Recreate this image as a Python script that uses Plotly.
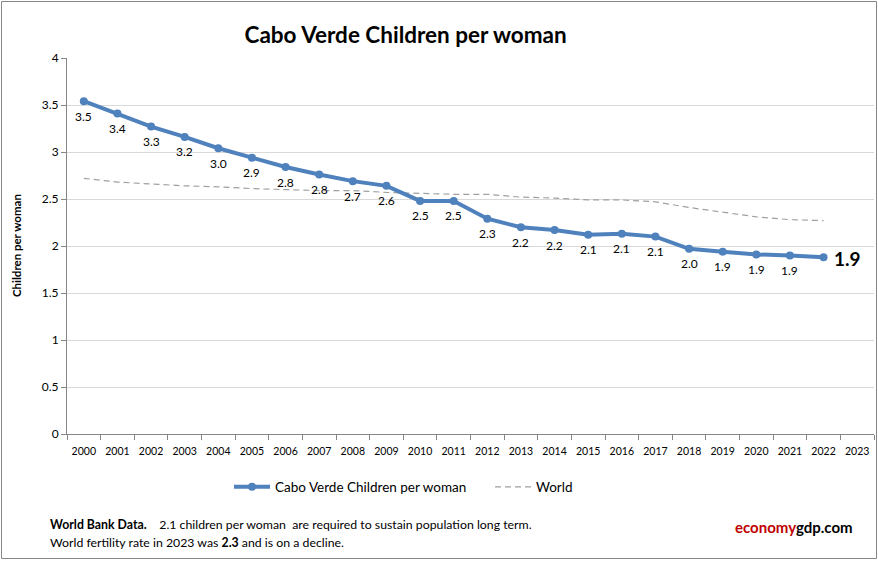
import plotly.graph_objects as go

years = [str(y) for y in range(2000, 2024)]
cabo_years = [str(y) for y in range(2000, 2023)]
cabo_values = [3.54, 3.41, 3.27, 3.16, 3.04, 2.94, 2.84, 2.76, 2.69, 2.64, 2.48, 2.48,
               2.29, 2.20, 2.17, 2.12, 2.13, 2.10, 1.97, 1.94, 1.91, 1.90, 1.88]
world_years = [str(y) for y in range(2000, 2023)]
world_values = [2.72, 2.68, 2.66, 2.64, 2.63, 2.61, 2.60, 2.59, 2.59, 2.57, 2.56, 2.55,
                2.55, 2.52, 2.51, 2.49, 2.49, 2.47, 2.41, 2.36, 2.31, 2.28, 2.27]
y_ticks = [0, 0.5, 1, 1.5, 2, 2.5, 3, 3.5, 4]

FONT = "Lato"
BLUE = "#4f81bd"

fig = go.Figure()
fig.add_trace(go.Scatter(
    x=world_years, y=world_values, name="World", mode="lines",
    line=dict(color="#a0a0a0", width=1.2, dash="6px,4px"),
))
fig.add_trace(go.Scatter(
    x=cabo_years, y=cabo_values, name="Cabo Verde Children per woman",
    mode="lines+markers",
    line=dict(color=BLUE, width=4),
    marker=dict(color=BLUE, size=8),
    cliponaxis=False,
))

# data labels (x given as category index)
for i, v in enumerate(cabo_values):
    if i < len(cabo_values) - 1:
        fig.add_annotation(x=i, y=v, text=f"{v:.1f}", showarrow=False, yshift=-15,
                           font=dict(family=FONT, size=12, color="black"))
    else:
        fig.add_annotation(x=i, y=v, text=f"<b>{v:.1f}</b>", showarrow=False,
                           xanchor="left", xshift=8, yshift=-1,
                           font=dict(family=FONT, size=19, color="black"))

fig.update_layout(
    width=878, height=561,
    margin=dict(l=67, r=4, t=58, b=127, autoexpand=False),
    paper_bgcolor="white", plot_bgcolor="white",
    font=dict(family=FONT, color="black"),
    title=dict(text="<b>Cabo Verde Children per woman</b>", xref="container", x=0.462,
               xanchor="center", y=1 - 35 / 561, yanchor="middle",
               font=dict(family=FONT, size=22.5, color="black")),
    showlegend=True,
    legend=dict(orientation="h", x=(229 - 67) / 807, xanchor="left", y=-0.141, yanchor="middle",
                font=dict(family=FONT, size=13.5), traceorder="reversed",
                entrywidth=210, entrywidthmode="pixels", itemwidth=36),
    xaxis=dict(type="category", categoryorder="array", categoryarray=years,
               range=[-0.5, 23.5], tickson="boundaries", ticks="outside", ticklen=5,
               tickangle=0, automargin=False, ticklabelstandoff=7,
               tickcolor="#868686", showline=True, linecolor="#868686", linewidth=1,
               showgrid=False, tickfont=dict(family=FONT, size=10.5)),
    yaxis=dict(range=[0, 4], tickvals=y_ticks, ticktext=[f"{t:g}" for t in y_ticks],
               ticks="outside", ticklen=5, tickcolor="#868686", automargin=False,
               showline=True, linecolor="#868686", linewidth=1,
               showgrid=True, gridcolor="#d9d9d9", gridwidth=1, zeroline=False,
               tickfont=dict(family=FONT, size=12)),
)

# y axis title
fig.add_annotation(text="<b>Children per woman</b>", xref="paper", yref="paper",
                   x=(16 - 67) / 807, y=0.5, xanchor="center", yanchor="middle",
                   textangle=-90, showarrow=False,
                   font=dict(family=FONT, size=11.5, color="black"))
# footnotes
fig.add_annotation(text="<b>World Bank Data.</b>    2.1 children per woman  are required to sustain population long term.",
                   xref="paper", yref="paper", x=(48 - 67) / 807, y=(434 - 524) / 376,
                   xanchor="left", yanchor="middle", showarrow=False,
                   font=dict(family=FONT, size=12.3, color="black"))
fig.add_annotation(text="World fertility rate in 2023 was <b>2.3</b> and is on a decline.",
                   xref="paper", yref="paper", x=(48 - 67) / 807, y=(434 - 542) / 376,
                   xanchor="left", yanchor="middle", showarrow=False,
                   font=dict(family=FONT, size=12.3, color="black"))
fig.add_annotation(text="<b><span style='color:#c00000'>economy</span>gdp.com</b>",
                   xref="paper", yref="paper", x=(855 - 67) / 807, y=(434 - 527) / 376,
                   xanchor="right", yanchor="middle", showarrow=False,
                   font=dict(family=FONT, size=15, color="black"))
# outer border
fig.add_shape(type="rect", xref="paper", yref="paper",
              x0=(1.5 - 67) / 807, x1=(876.5 - 67) / 807,
              y0=(434 - 558.5) / 376, y1=(434 - 1.5) / 376,
              line=dict(color="#868686", width=1), layer="below")

fig.write_html("out.html", config={"displayModeBar": False},
               post_script="document.body.style.margin='0px';")
